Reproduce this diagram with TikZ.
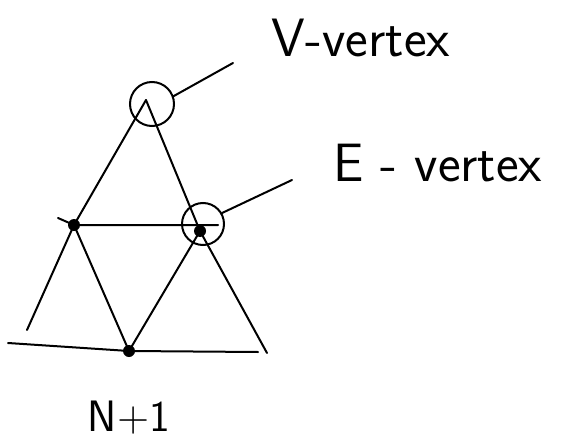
\documentclass[tikz,border=0pt]{standalone}
\usetikzlibrary{positioning}
\begin{document}
\begin{tikzpicture}[x=0.5pt, y=-0.5pt,
    edge/.style={line width=1pt, line cap=round},
    dot/.style={circle, fill, inner sep=0pt, minimum size=6pt},
    ring/.style={circle, draw, line width=1pt, inner sep=0pt, minimum size=21pt},
    lbl/.style={font=\sffamily\fontsize{27}{32}\selectfont, inner sep=0pt}
  ]
  \useasboundingbox (0,0) rectangle (561,443);

  % corners and midpoints
  \coordinate (top) at (146,100);
  \coordinate (lb) at (27,330);
  \coordinate (rb) at (267,353);
  \node[dot] (lm) at (74,225) {};
  \node[dot] (rm) at (200,231) {};
  \node[dot] (bm) at (129,351) {};

  % free ends of the long strokes
  \coordinate (hl) at (58,218);
  \coordinate (hr) at (218,225);
  \coordinate (bl) at (8,343);
  \coordinate (br) at (258,352);

  % marked vertices
  \node[ring, minimum size=22pt] (vring) at (152,104) {};
  \node[ring] (ering) at (203,224) {};

  % labels
  \node[lbl] (vtxt) at (361,38) {V-vertex};
  \node[lbl] (etxt) at (438,163) {E - vertex};
  \node[lbl, font=\sffamily\fontsize{22}{26}\selectfont] (ntxt) at (129,418) {N+1};
  \coordinate (vend) at (233,63);
  \coordinate (eend) at (292,180);

  % outer triangle
  \draw[edge] (top) -- (lm.center) -- (lb);
  \draw[edge] (top) -- (rm.center) -- (rb);
  \draw[edge] (bl) -- (bm.center) -- (br);

  % inner triangle
  \draw[edge] (hl) -- (lm.center) -- (hr);
  \draw[edge] (lm.center) -- (bm.center) -- (rm.center);

  % pointers
  \draw[edge] (vring.20) -- (vend);
  \draw[edge] (ering.30) -- (eend);
\end{tikzpicture}
\end{document}
